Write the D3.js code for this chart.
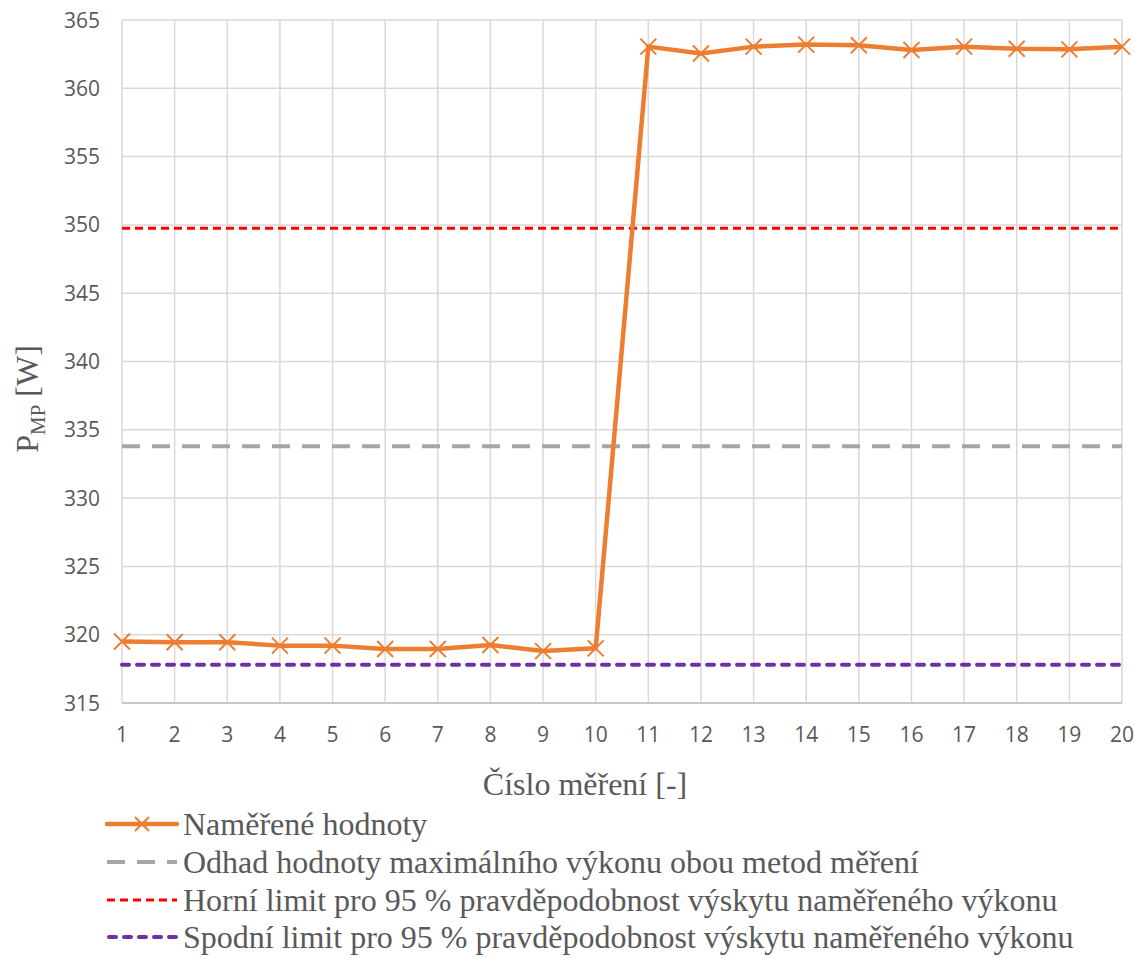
<!DOCTYPE html>
<html><head><meta charset="utf-8">
<script src="https://cdn.jsdelivr.net/npm/d3@7"></script>
<style>body{margin:0;background:#fff}</style>
</head><body>
<svg id="c" width="1141" height="958"></svg>
<script>
const categories = [1,2,3,4,5,6,7,8,9,10,11,12,13,14,15,16,17,18,19,20];
const measured = [319.5,319.45,319.45,319.2,319.2,318.95,318.95,319.25,318.8,319.0,363.05,362.55,363.05,363.2,363.15,362.8,363.05,362.9,362.85,363.05];
const estimate = 333.8;
const upperLimit = 349.75;
const lowerLimit = 317.8;
const yTicks = [315,320,325,330,335,340,345,350,355,360,365];
const legendLabels = ["Naměřené hodnoty","Odhad hodnoty maximálního výkonu obou metod měření","Horní limit pro 95 % pravděpodobnost výskytu naměřeného výkonu","Spodní limit pro 95 % pravděpodobnost výskytu naměřeného výkonu"];

const svg = d3.select("#c");
const L=122, R=1122, T=20, B=703;
const x = d3.scaleLinear().domain([1,20]).range([L,R]);
const y = d3.scaleLinear().domain([315,365]).range([B,T]);
const tickFont = "'Open Sans', 'Liberation Sans', sans-serif";
const serif = "'Liberation Serif', 'Times New Roman', serif";

// grid
svg.append("g").selectAll("line").data(yTicks).join("line")
  .attr("x1",L).attr("x2",R).attr("y1",d=>y(d)).attr("y2",d=>y(d))
  .attr("stroke","#d9d9d9").attr("stroke-width",1.5);
svg.append("g").selectAll("line").data(categories).join("line")
  .attr("x1",d=>x(d)).attr("x2",d=>x(d)).attr("y1",T).attr("y2",B)
  .attr("stroke","#d9d9d9").attr("stroke-width",1.5);
svg.append("line").attr("x1",L).attr("x2",R).attr("y1",B).attr("y2",B).attr("stroke","#bfbfbf").attr("stroke-width",1.5);

// y tick labels
svg.append("g").selectAll("text").data(yTicks).join("text")
  .attr("x",100).attr("y",d=>y(d)).attr("dy","0.36em").attr("text-anchor","end")
  .attr("font-family",tickFont).attr("font-size",21).attr("fill","#595959").text(d=>d);
// x tick labels
svg.append("g").selectAll("text").data(categories).join("text")
  .attr("x",d=>x(d)).attr("y",742).attr("text-anchor","middle")
  .attr("font-family",tickFont).attr("font-size",21).attr("fill","#595959").text(d=>d);

// reference lines
const refs = [
  {v:estimate, c:"#a5a5a5", w:4, dash:"18,12", cap:"butt"},
  {v:upperLimit, c:"#ff0000", w:3, dash:"8,5", cap:"butt"},
  {v:lowerLimit, c:"#7030a0", w:4, dash:"7,8", cap:"round"}
];
refs.forEach(r=>{
  svg.append("line").attr("x1",L).attr("x2",R).attr("y1",y(r.v)).attr("y2",y(r.v))
    .attr("stroke",r.c).attr("stroke-width",r.w).attr("stroke-dasharray",r.dash).attr("stroke-linecap",r.cap);
});

// data line
const orange="#ed7d31";
svg.append("path").datum(measured)
  .attr("d",d3.line().x((d,i)=>x(categories[i])).y(d=>y(d)))
  .attr("fill","none").attr("stroke",orange).attr("stroke-width",4.5).attr("stroke-linejoin","round");
svg.append("g").selectAll("path").data(measured).join("path")
  .attr("transform",(d,i)=>`translate(${x(categories[i])},${y(d)})`)
  .attr("d","M-8,-8L8,8M-8,8L8,-8")
  .attr("stroke",orange).attr("stroke-width",2).attr("fill","none");

// axis titles
svg.append("text").attr("x",585).attr("y",795).attr("text-anchor","middle")
  .attr("font-family",serif).attr("font-size",32).attr("fill","#595959").text("Číslo měření [-]");
const yt = svg.append("text").attr("transform","translate(38,399) rotate(-90)").attr("text-anchor","middle")
  .attr("font-family",serif).attr("font-size",32).attr("fill","#595959");
yt.append("tspan").text("P");
yt.append("tspan").attr("font-size",21).attr("dy",7).text("MP");
yt.append("tspan").attr("dy",-7).text(" [W]");

// legend
const ly=[824,862,900,937];
const lg = svg.append("g");
legendLabels.forEach((t,i)=>{
  const yy = ly[i];
  if(i===0){
    lg.append("line").attr("x1",107).attr("x2",177).attr("y1",yy).attr("y2",yy).attr("stroke",orange).attr("stroke-width",4.5).attr("stroke-linecap","round");
    lg.append("path").attr("d",`M${142-7},${yy-7}L${142+7},${yy+7}M${142-7},${yy+7}L${142+7},${yy-7}`).attr("stroke",orange).attr("stroke-width",2);
  } else {
    const r = refs[i-1];
    const dash = i===1 ? "18,12" : (i===2 ? "8,5" : "7,8");
    lg.append("line").attr("x1",i===3?109:107).attr("x2",177).attr("y1",yy).attr("y2",yy).attr("stroke",r.c).attr("stroke-width",r.w).attr("stroke-dasharray",dash).attr("stroke-linecap",r.cap);
  }
  lg.append("text").attr("x",183).attr("y",yy).attr("dy","0.33em").attr("font-family",serif).attr("font-size",32).attr("fill","#595959").text(t);
});
</script>
</body></html>
